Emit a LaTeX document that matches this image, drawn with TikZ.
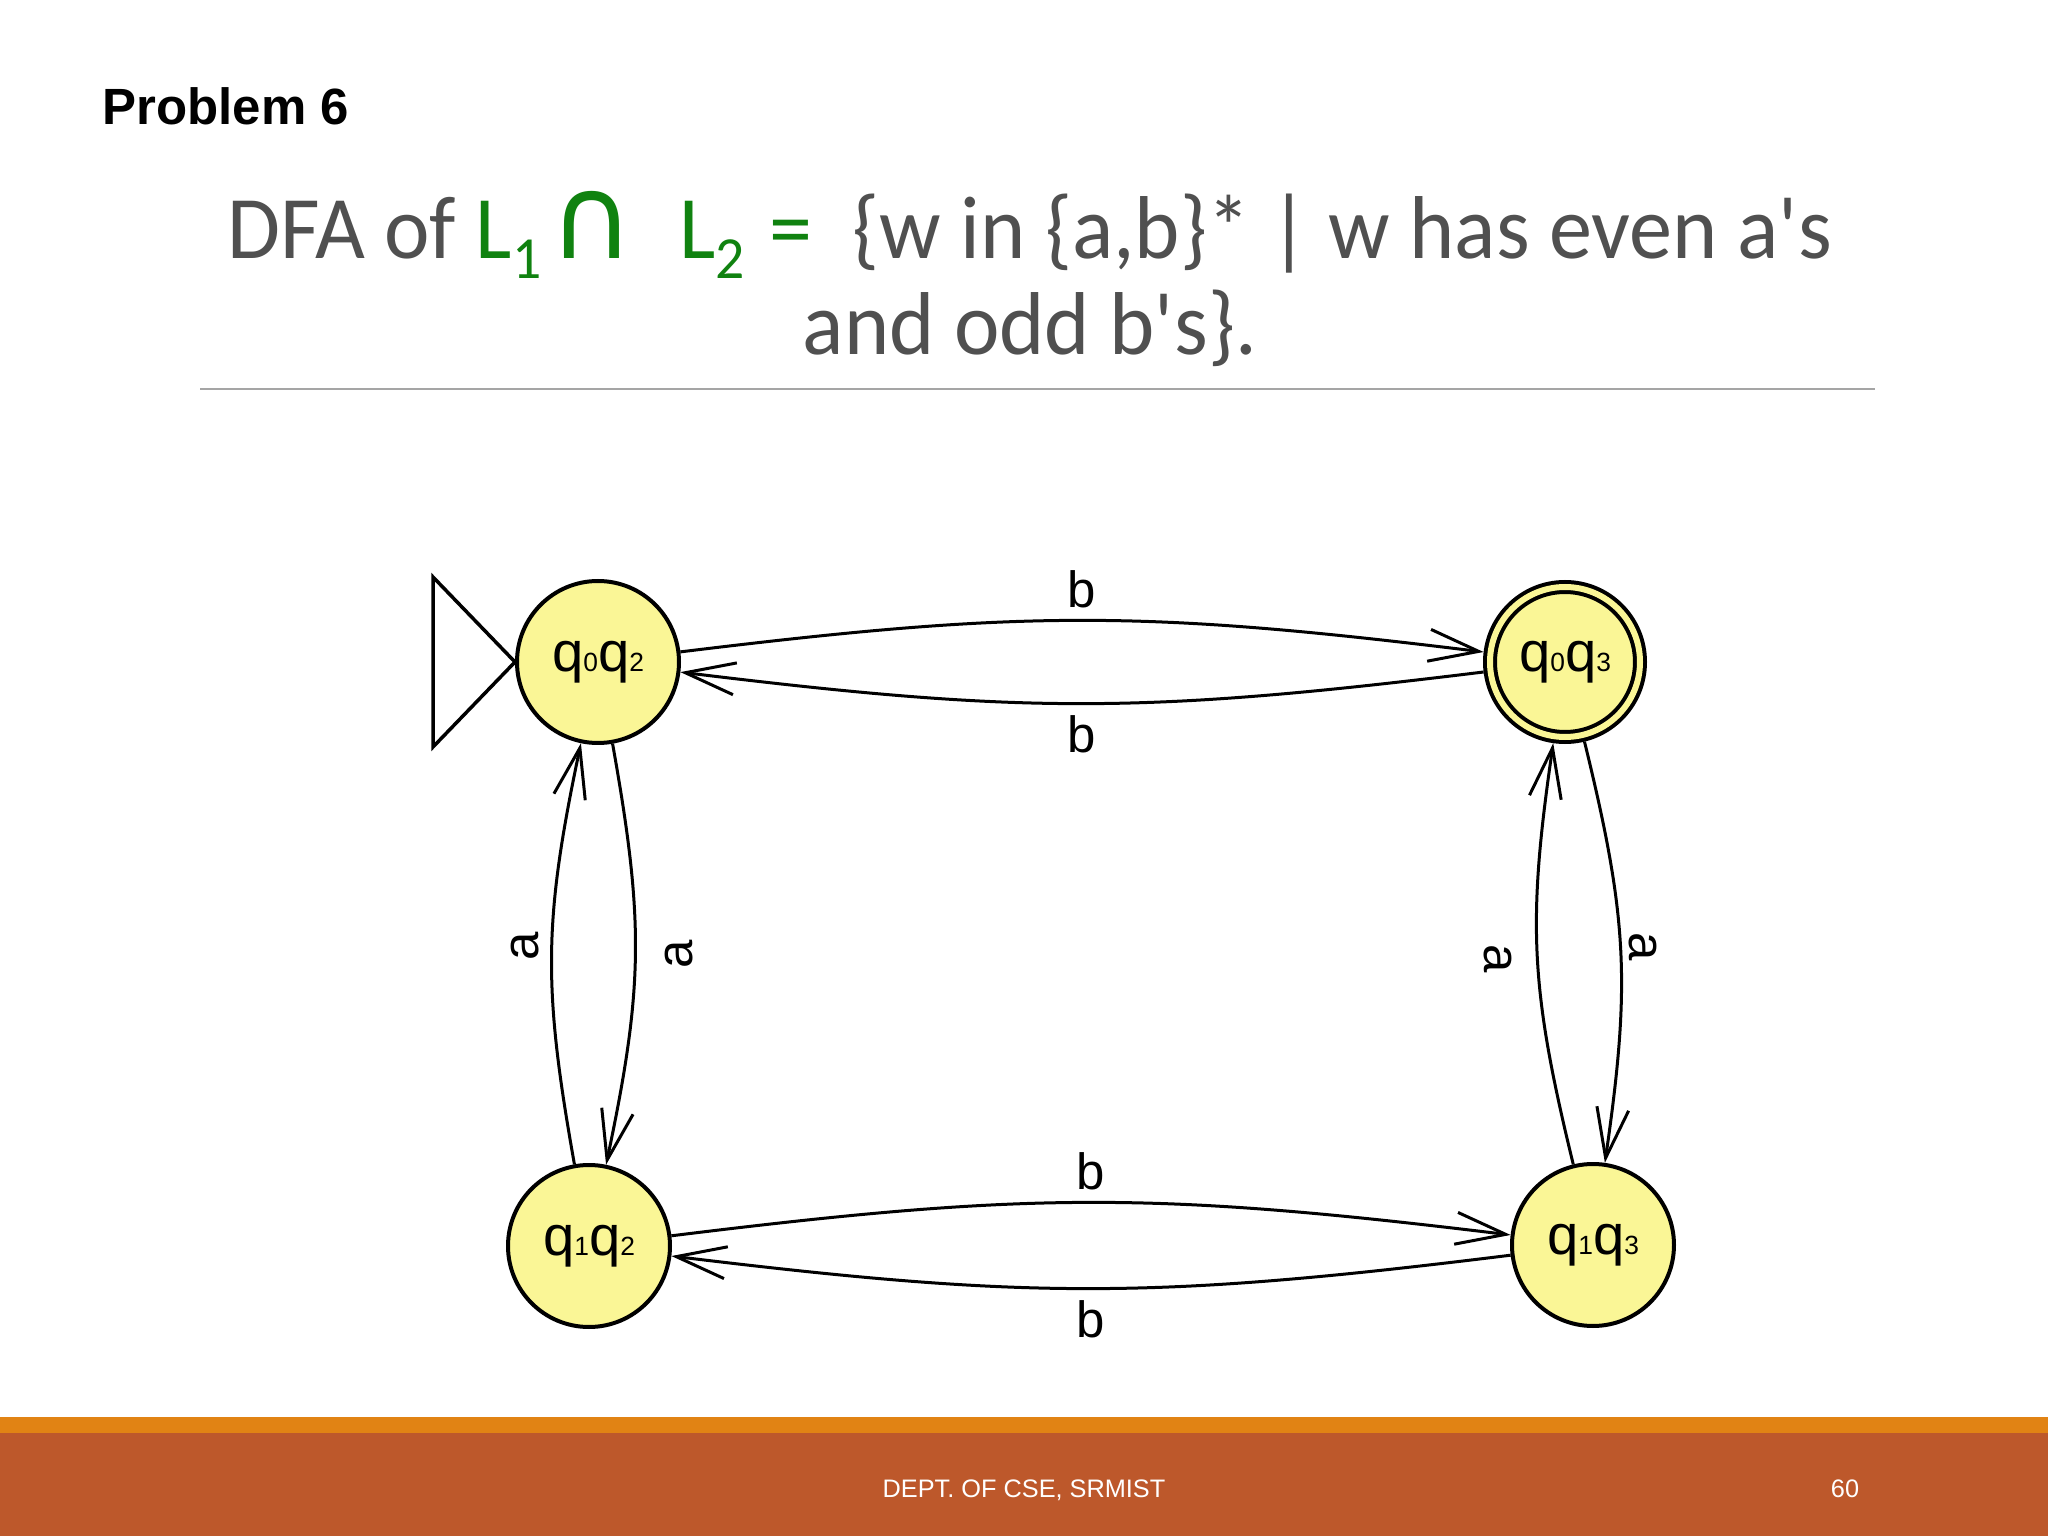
\documentclass[tikz,border=0pt]{standalone}
\usepackage{fontspec}
\setmainfont{Liberation Sans}
\newfontfamily\headfont[FakeStretch=0.965]{Carlito}
\newfontfamily\capfont{DejaVu Sans}
\usetikzlibrary{automata, positioning, arrows.meta}

\definecolor{statefill}{RGB}{250,246,150}
\definecolor{headgray}{RGB}{80,80,80}
\definecolor{headgreen}{RGB}{16,130,16}
\definecolor{stripe}{RGB}{225,131,20}
\definecolor{band}{RGB}{189,88,43}
\definecolor{rulegray}{RGB}{165,165,165}

\newcommand{\qname}[2]{q{\fontsize{7.5}{8}\selectfont#1}q{\fontsize{7.5}{8}\selectfont#2}}
\newcommand{\lowdigit}[1]{\raisebox{-0.2cm}{\fontsize{17}{20}\selectfont#1}}

\tikzset{
  every state/.style={fill=statefill, line width=0.4mm, minimum size=1.62cm, inner sep=0pt, font=\fontsize{16}{18}\selectfont},
  accepting/.style={double=statefill, double distance=0.6mm, minimum size=1.5cm, outer sep=0.7mm},
  lbl/.style={font=\fontsize{14.5}{16}\selectfont, inner sep=3pt},
  >={Straight Barb[length=5mm, width=3.2mm]}
}

\begin{document}
\begin{tikzpicture}[on grid]
	\useasboundingbox (0,0) rectangle (20.48,-15.36);
	\node[anchor=base west, font=\bfseries\fontsize{14.5}{17}\selectfont, inner sep=0pt] (prob) at (1.02,-1.25) {Problem 6};
	\node[anchor=base, font=\headfont\fontsize{25.4}{30}\selectfont, text=headgray, inner sep=0pt] (head) at (10.30,-2.59) {DFA of \textcolor{headgreen}{L\lowdigit{1}\hspace{0.08cm}{\capfont\fontsize{33}{35}\selectfont ∩}\hspace{0.45cm}L\lowdigit{2}\hspace{0.25cm}=}\hspace{0.4cm}\{w in \{a,b\}* | w has even a\textquotesingle s};
	\node[anchor=base, font=\headfont\fontsize{25.4}{30}\selectfont, text=headgray, inner sep=0pt] (head2) at (10.30,-3.55) {and odd b\textquotesingle s\}.};
	\draw[rulegray, line width=0.2mm] (2.00,-3.89) -- (18.75,-3.89);

	\node[state] (q02) at (5.98,-6.62) {\qname{0}{2}};
	\node[state, accepting] (q03) [right=9.67cm of q02] {\qname{0}{3}};
	\node[state] (q12) [below left=5.84cm and 0.09cm of q02] {\qname{1}{2}};
	\node[state] (q13) [below right=5.83cm and 0.28cm of q03] {\qname{1}{3}};
	\draw[line width=0.35mm] (q02.west) -- ++(-0.82,0.85) -- ++(0,-1.70) -- cycle;

	\path[->, line width=0.3mm]
	    (q02) edge [bend left=7, looseness=1.1] node [lbl, above] {b} (q03)
	    (q03) edge [bend left=7, looseness=1.1] node [lbl, below] {b} (q02)
	    (q12) edge [bend left=7, looseness=1.1] node [lbl, above] {b} (q13)
	    (q13) edge [bend left=7, looseness=1.1] node [lbl, below] {b} (q12)
	    (q02) edge [bend left=11, looseness=1.1] node [lbl, xshift=0.44cm, rotate=90] {a} (q12)
	    (q12) edge [bend left=11, looseness=1.1] node [lbl, xshift=-0.27cm, yshift=0.07cm, rotate=90] {a} (q02)
	    (q03) edge [bend left=11, looseness=1.1] node [lbl, xshift=0.22cm, yshift=0.04cm, rotate=-90] {a} (q13)
	    (q13) edge [bend left=11, looseness=1.1] node [lbl, xshift=-0.39cm, yshift=-0.04cm, rotate=-90] {a} (q03);

	\fill[stripe] (0,-14.17) rectangle (20.48,-14.33);
	\fill[band] (0,-14.33) rectangle (20.48,-15.36);
	\node[anchor=base, text=white, font=\fontsize{7.2}{9}\selectfont, inner sep=0pt] (dept) at (10.24,-14.97) {DEPT. OF CSE, SRMIST};
	\node[anchor=base, text=white, font=\fontsize{7.2}{9}\selectfont, inner sep=0pt] (page) at (18.45,-14.97) {60};
\end{tikzpicture}
\end{document}
